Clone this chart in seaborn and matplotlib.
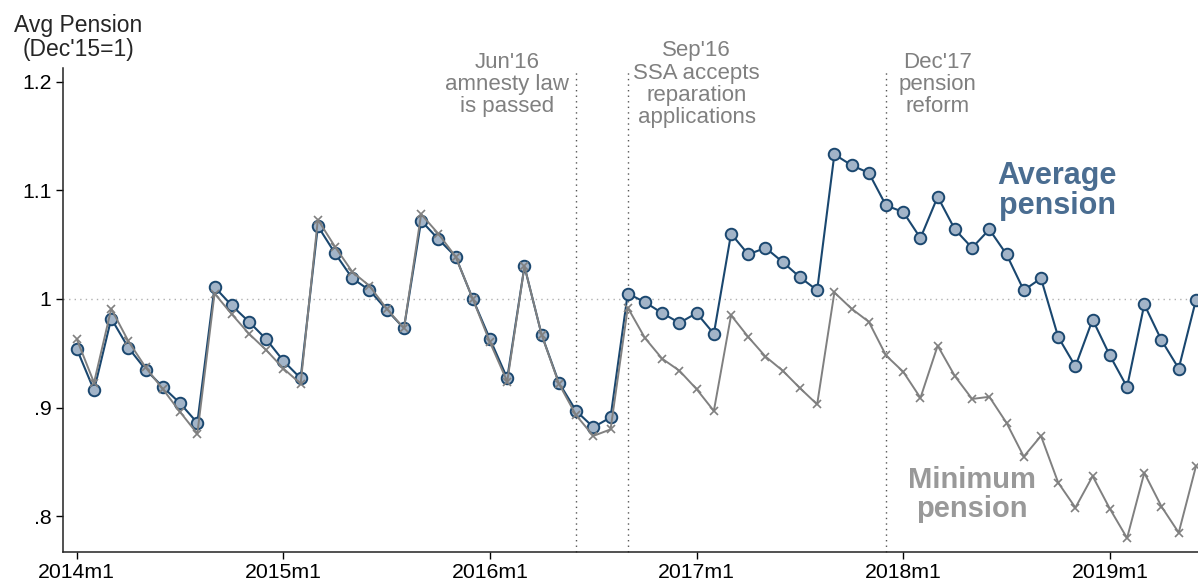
import numpy as np
import pandas as pd
import matplotlib
matplotlib.use("Agg")
import matplotlib.pyplot as plt
import seaborn as sns

# ── Data (index Dec'15 = 1), monthly from 2014m1 to 2019m6 ───────────────────
avg_pension = [
    0.954, 0.916, 0.982, 0.955, 0.935, 0.919, 0.904, 0.886, 1.011, 0.994, 0.979, 0.963,
    0.943, 0.927, 1.067, 1.042, 1.019, 1.008, 0.990, 0.973, 1.072, 1.055, 1.039, 1.000,
    0.963, 0.927, 1.030, 0.967, 0.923, 0.897, 0.882, 0.891, 1.005, 0.997, 0.987, 0.978,
    0.987, 0.968, 1.060, 1.041, 1.047, 1.034, 1.020, 1.008, 1.133, 1.123, 1.116, 1.086,
    1.080, 1.056, 1.094, 1.064, 1.047, 1.064, 1.041, 1.008, 1.019, 0.965, 0.938, 0.981,
    0.948, 0.919, 0.995, 0.962, 0.936, 0.999,
]
min_pension = [
    0.963, 0.923, 0.991, 0.961, 0.937, 0.917, 0.896, 0.876, 1.005, 0.986, 0.968, 0.953,
    0.936, 0.922, 1.073, 1.048, 1.025, 1.012, 0.991, 0.973, 1.078, 1.060, 1.039, 1.000,
    0.960, 0.924, 1.030, 0.967, 0.922, 0.893, 0.874, 0.880, 0.992, 0.964, 0.945, 0.934,
    0.917, 0.897, 0.985, 0.965, 0.947, 0.934, 0.918, 0.903, 1.006, 0.991, 0.979, 0.948,
    0.933, 0.909, 0.957, 0.929, 0.908, 0.910, 0.886, 0.855, 0.874, 0.831, 0.808, 0.837,
    0.807, 0.780, 0.840, 0.809, 0.785, 0.846,
]
months = np.arange(len(avg_pension))  # 0 = 2014m1

year_ticks = [0, 12, 24, 36, 48, 60]
year_labels = ["2014m1", "2015m1", "2016m1", "2017m1", "2018m1", "2019m1"]
y_ticks = [0.8, 0.9, 1.0, 1.1, 1.2]
y_labels = [".8", ".9", "1", "1.1", "1.2"]

events = [29, 32, 47]  # 2016m6, 2016m9, 2017m12
event_texts = ["Jun'16\namnesty law\nis passed",
               "Sep'16\nSSA accepts\nreparation\napplications",
               "Dec'17\npension\nreform"]

df = pd.DataFrame({"month": months, "avg": avg_pension, "min": min_pension})

# ── Style ────────────────────────────────────────────────────────────────────
sns.set_style("ticks")
plt.rcParams["font.family"] = ["Liberation Sans", "DejaVu Sans"]

NAVY = "#1a476f"
FILL = "#a2b4c8"
GRAY = "#808080"

fig = plt.figure(figsize=(11.98, 5.82), dpi=100)
ax = fig.add_axes([0.0529, 0.0521, 0.9471, 0.8311])

ax.axhline(1.0, color="#b0b0b0", linestyle=(0, (1, 3)), linewidth=1, zorder=1)
for m in events:
    ax.plot([m, m], [0.7675, 1.209], color="#555555", linestyle=(0, (1, 3)),
            linewidth=1, zorder=1, clip_on=False)

sns.lineplot(data=df, x="month", y="avg", ax=ax, color=NAVY, linewidth=1.5,
             marker="o", markersize=8.3, markerfacecolor=FILL,
             markeredgecolor=NAVY, markeredgewidth=1.4, zorder=3)
sns.lineplot(data=df, x="month", y="min", ax=ax, color=GRAY, linewidth=1.4,
             marker="x", markersize=5.5, markeredgecolor=GRAY,
             markeredgewidth=1.2, zorder=4)

ax.set_xlim(-0.78, 65.12)
ax.set_ylim(0.7675, 1.2125)
ax.set_xticks(year_ticks)
ax.set_xticklabels(year_labels)
ax.set_yticks(y_ticks)
ax.set_yticklabels(y_labels)
ax.tick_params(axis="both", labelsize=15.3, length=5, width=1, colors="black",
               direction="out")
ax.set_xlabel("")
ax.set_ylabel("")
sns.despine(ax=ax)
for s in ["left", "bottom"]:
    ax.spines[s].set_linewidth(1.1)
    ax.spines[s].set_color("#222222")

fig.text(78 / 1198, 1 - 37.5 / 582, "Avg Pension\n(Dec'15=1)", ha="center",
         va="center", fontsize=16.5, linespacing=1.05)

# event annotations, centred over the gap left of each dotted line
ann_x = [25.0, 36.0, 50.0]
for x, txt in zip(ann_x, event_texts):
    ax.text(x, 1.1975, txt, ha="center", va="center", fontsize=16, color=GRAY,
            linespacing=1.08, clip_on=False)

ax.text(56.95, 1.0989, "Average\npension", ha="center", va="center",
        fontsize=22, fontweight="bold", color="#4a6d91", linespacing=1.0)
ax.text(52.0, 0.8197, "Minimum\npension", ha="center", va="center",
        fontsize=21, fontweight="bold", color="#999999", linespacing=1.05)

fig.savefig("out.png", dpi=100)
